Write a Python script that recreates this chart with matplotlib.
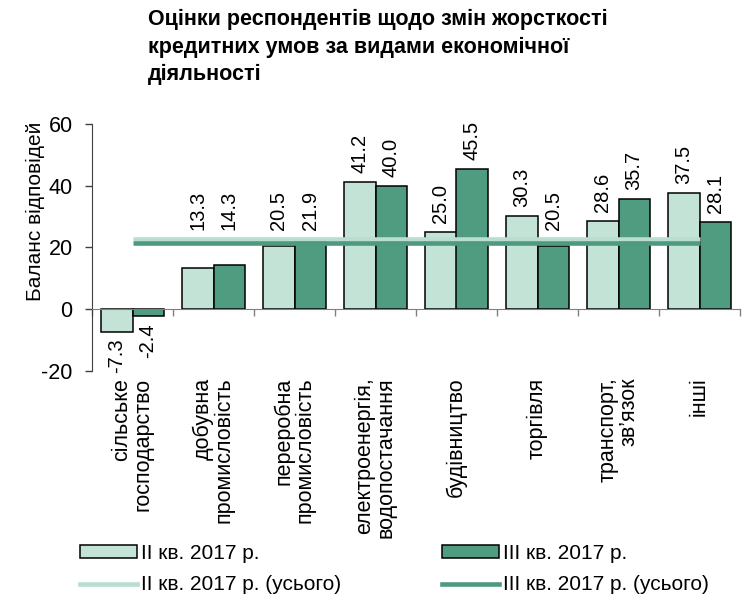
import matplotlib
matplotlib.use("Agg")
import matplotlib.pyplot as plt
import numpy as np
from matplotlib.patches import Patch
from matplotlib.lines import Line2D

plt.rcParams['font.family'] = ['Liberation Sans', 'DejaVu Sans']
plt.rcParams['axes.unicode_minus'] = False

# Data
categories = [
    "сільське\nгосподарство",
    "добувна\nпромисловість",
    "переробна\nпромисловість",
    "електроенергія,\nводопостачання",
    "будівництво",
    "торгівля",
    "транспорт,\nзв\u2019язок",
    "інші",
]
q2_values = [-7.3, 13.3, 20.5, 41.2, 25.0, 30.3, 28.6, 37.5]
q3_values = [-2.4, 14.3, 21.9, 40.0, 45.5, 20.5, 35.7, 28.1]
q2_total = 22.6
q3_total = 21.5

title = ("Оцінки респондентів щодо змін жорсткості\n"
         "кредитних умов за видами економічної\n"
         "діяльності")
y_label = "Баланс відповідей"
label_q2 = "II кв. 2017 р."
label_q3 = "III кв. 2017 р."
label_q2_total = "II кв. 2017 р. (усього)"
label_q3_total = "III кв. 2017 р. (усього)"

light = "#c2e3d6"
dark = "#4f9c80"
light_line = "#b9ddd0"
dark_line = "#4e9a7f"

W, H = 746, 597
fig = plt.figure(figsize=(W / 100, H / 100), dpi=100)
ax = fig.add_axes([92 / W, 1 - 370.7 / H, (740 - 92) / W, (370.7 - 124) / H])

x = np.arange(len(categories))
bw = 0.383
ax.bar(x - bw / 2, q2_values, bw, color=light, edgecolor="black", linewidth=1.1, zorder=2)
ax.bar(x + bw / 2, q3_values, bw, color=dark, edgecolor="black", linewidth=1.1, zorder=2)

ax.plot(x, [q2_total] * len(x), color=light_line, linewidth=3.3, zorder=3,
        solid_capstyle="butt")
ax.plot(x, [q3_total] * len(x), color=dark_line, linewidth=3.3, zorder=4,
        solid_capstyle="butt")

# value labels: sit above the bar, or above the total lines if the bar is lower
line_top = max(q2_total, q3_total)
for xs, vals in ((x - bw / 2, q2_values), (x + bw / 2, q3_values)):
    for xi, v in zip(xs, vals):
        if v >= 0:
            ax.annotate(f"{v:.1f}", (xi, max(v, line_top)), xytext=(0, 6.5),
                        textcoords="offset points", rotation=90,
                        ha="center", va="bottom", fontsize=14.5)
        else:
            ax.annotate(f"{v:.1f}", (xi, v), xytext=(0, -5),
                        textcoords="offset points", rotation=90,
                        ha="center", va="top", fontsize=14.5)

ax.set_xlim(-0.5, len(categories) - 0.5)
ax.set_ylim(-20, 60)
ax.set_yticks([-20, 0, 20, 40, 60])
ax.set_xticks(np.arange(len(categories) + 1) - 0.5)
ax.set_xticklabels([])
ax.tick_params(axis="y", labelsize=15.5, length=5, width=1, color="#404040", pad=9)
ax.tick_params(axis="x", length=5, width=1, color="#808080")

for s in ("top", "right"):
    ax.spines[s].set_visible(False)
ax.spines["bottom"].set_position(("data", 0))
ax.spines["bottom"].set_color("#808080")
ax.spines["left"].set_color("#404040")
ax.spines["bottom"].set_zorder(5)

for xi, cat in zip(x, categories):
    ax.annotate(cat, (xi, 0), xycoords=("data", "axes fraction"),
                xytext=(0, -5), textcoords="offset points", rotation=90,
                ha="center", va="top", multialignment="right", fontsize=15.5,
                linespacing=1.0)

fig.text(148 / W, 1 - 9 / H, title, ha="left", va="top", fontsize=15.5,
         fontweight="bold", linespacing=1.4)
fig.text(35 / W, 1 - 211 / H, y_label, rotation=90, ha="center", va="center",
         fontsize=15)

h_q2 = Patch(facecolor=light, edgecolor="black", linewidth=1.1)
h_q3 = Patch(facecolor=dark, edgecolor="black", linewidth=1.1)
h_q2t = Line2D([], [], color=light_line, linewidth=3.3)
h_q3t = Line2D([], [], color=dark_line, linewidth=3.3)

common = dict(frameon=False, fontsize=15, handlelength=2.75, handletextpad=0.2,
              handleheight=0.55, borderpad=0, borderaxespad=0, labelspacing=0.6,
              loc="upper left")
fig.legend([h_q2, h_q2t], [label_q2, label_q2_total],
           bbox_to_anchor=(80 / W, 1 - 544 / H), **common)
fig.legend([h_q3, h_q3t], [label_q3, label_q3_total],
           bbox_to_anchor=(442 / W, 1 - 544 / H), **common)

fig.savefig("out.png", dpi=100)
